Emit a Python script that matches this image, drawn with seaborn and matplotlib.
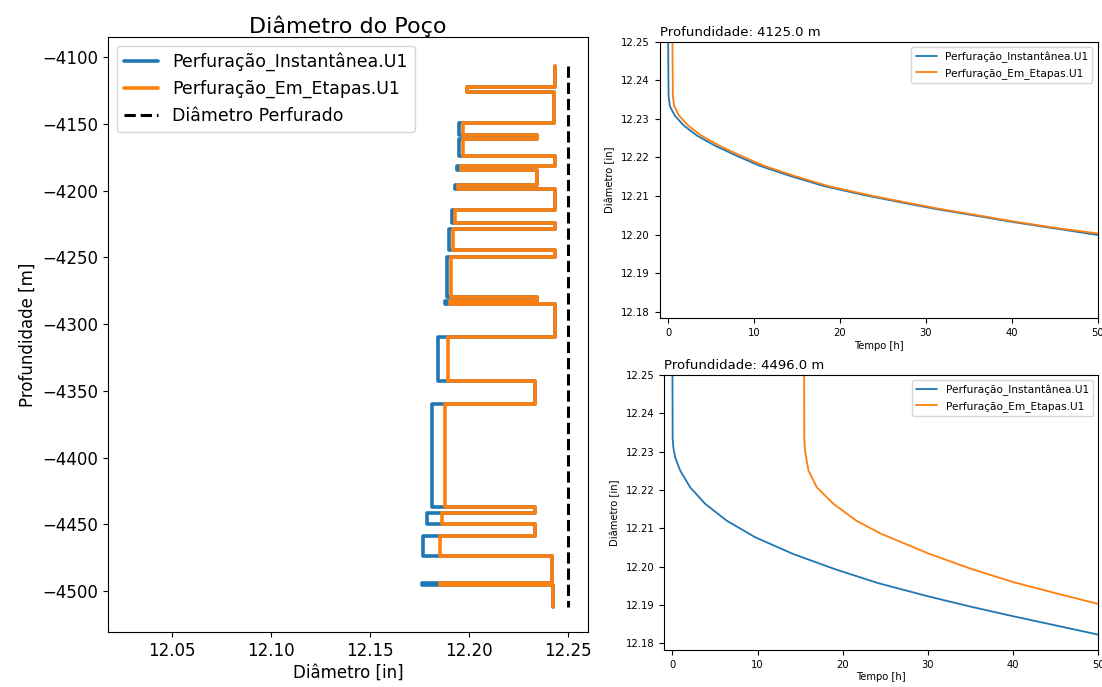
import numpy as np
import matplotlib
matplotlib.use("Agg")
import matplotlib.pyplot as plt
import seaborn as sns

# ---------------- data ----------------
# Layer boundaries of the well profile (depth, m; negative downwards)
layer_bounds = [-4107, -4122.5, -4126.5, -4149.5, -4158.5, -4161, -4174, -4181.5,
                -4184.5, -4196, -4198.5, -4214.5, -4224.5, -4228.5, -4244.5,
                -4249.5, -4280, -4282.5, -4285, -4310, -4343, -4360, -4437,
                -4441.5, -4449.5, -4458.5, -4473.5, -4494, -4495.5, -4512]
# Diameter [in] of each layer
diam_instantanea = [12.2435, 12.1990, 12.2430, 12.1950, 12.2345, 12.1950, 12.2435,
                    12.1940, 12.2345, 12.1930, 12.2435, 12.1917, 12.2435, 12.1900,
                    12.2435, 12.1890, 12.2345, 12.1880, 12.2435, 12.1845, 12.2335,
                    12.1815, 12.2335, 12.1788, 12.2335, 12.1771, 12.2420, 12.1765,
                    12.2425]
diam_etapas = [12.2435, 12.1990, 12.2430, 12.1970, 12.2345, 12.1970, 12.2435,
               12.1960, 12.2345, 12.1945, 12.2435, 12.1931, 12.2435, 12.1920,
               12.2435, 12.1913, 12.2345, 12.1905, 12.2435, 12.1897, 12.2335,
               12.1880, 12.2335, 12.1864, 12.2335, 12.1855, 12.2420, 12.1855,
               12.2425]
diam_perfurado = 12.25

# Time histories at two depths
t_4125_inst = [0, 0.05, 0.2, 0.78, 1.85, 3.4, 5.5, 8.0, 10.7, 14.2, 18.1, 22.7, 27, 31, 35,
               40, 45, 50]
d_4125_inst = [12.25, 12.2359, 12.2333, 12.2308, 12.2282, 12.2256, 12.223, 12.2204, 12.2178,
               12.2152, 12.2126, 12.2103, 12.2084, 12.2067, 12.2052, 12.2033, 12.2016, 12.1999]
t_4125_etap = [0.5, 0.55, 0.7, 1.28, 2.35, 3.9, 6.0, 8.5, 11.2, 14.7, 18.6, 23.2, 27.5, 31.5,
               35.5, 40.5, 45.5, 50]
d_4125_etap = [12.25, 12.2359, 12.2333, 12.2308, 12.2282, 12.2256, 12.223, 12.2204, 12.2178,
               12.2152, 12.2126, 12.2103, 12.2084, 12.2067, 12.2052, 12.2033, 12.2016, 12.2003]
t_4496_inst = [0, 0.02, 0.1, 0.32, 0.9, 2.08, 3.84, 6.38, 9.7, 14.2, 19.3, 24.2, 30, 35, 40,
               45, 50]
d_4496_inst = [12.25, 12.2335, 12.2311, 12.2285, 12.2251, 12.2207, 12.2164, 12.212, 12.2077,
               12.2033, 12.1992, 12.1957, 12.1923, 12.1896, 12.1871, 12.1847, 12.1823]
t_4496_etap = [15.46, 15.48, 15.56, 15.97, 16.95, 18.9, 21.6, 24.4, 30, 35, 40, 45, 50]
d_4496_etap = [12.25, 12.2335, 12.2303, 12.2251, 12.2207, 12.2164, 12.212, 12.2087, 12.2035,
               12.1995, 12.196, 12.1931, 12.1903]

lbl_inst = "Perfuração_Instantânea.U1"
lbl_etap = "Perfuração_Em_Etapas.U1"
C_BLUE = "#1f77b4"
C_ORANGE = "#ff7f0e"

# ---------------- style ----------------
sns.set_theme(style="ticks", rc={
    "axes.edgecolor": "black", "axes.linewidth": 0.8,
    "xtick.major.size": 3.5, "ytick.major.size": 3.5,
    "xtick.major.width": 0.8, "ytick.major.width": 0.8,
    "xtick.color": "black", "ytick.color": "black",
    "axes.labelcolor": "black", "text.color": "black",
    "legend.frameon": True,
})
plt.rcParams["font.family"] = ["DejaVu Sans"]

fig = plt.figure(figsize=(11.02, 6.87), dpi=100)
ax0 = fig.add_axes([0.098, 0.080, 0.4356, 0.866])
ax1 = fig.add_axes([0.5985, 0.5367, 0.3976, 0.4026])
ax2 = fig.add_axes([0.6025, 0.0539, 0.3941, 0.4003])


def step_path(bounds, diam):
    b = np.asarray(bounds, float)
    depth = np.column_stack([b[:-1], b[1:]]).ravel()
    x = np.repeat(np.asarray(diam, float), 2)
    return x, depth


# ---------------- left: profile ----------------
xi, yi = step_path(layer_bounds, diam_instantanea)
xe, ye = step_path(layer_bounds, diam_etapas)
line_kw = dict(sort=False, estimator=None, ax=ax0, lw=2.6,
               solid_joinstyle="round", solid_capstyle="round")
sns.lineplot(x=xi, y=yi, color=C_BLUE, label=lbl_inst, **line_kw)
sns.lineplot(x=xe, y=ye, color=C_ORANGE, label=lbl_etap, **line_kw)
sns.lineplot(x=[diam_perfurado, diam_perfurado], y=[layer_bounds[0], layer_bounds[-1]],
             sort=False, estimator=None, ax=ax0, color="black", lw=2.2,
             linestyle="--", label="Diâmetro Perfurado")
ax0.set_xlim(12.0177, 12.2603)
ax0.set_ylim(-4530.7, -4085)
ax0.set_xticks([12.05, 12.10, 12.15, 12.20, 12.25])
ax0.set_yticks(np.arange(-4500, -4099, 50))
ax0.tick_params(labelsize=12)
ax0.set_xlabel("Diâmetro [in]", fontsize=12, labelpad=3)
ax0.set_ylabel("Profundidade [m]", fontsize=12)
ax0.set_title("Diâmetro do Poço", fontsize=16, pad=3)
ax0.legend(loc="upper left", fontsize=12.5, handlelength=2.0)

# ---------------- right: time histories ----------------
for ax, depth_title, ti, di, te, de in [
        (ax1, "Profundidade: 4125.0 m", t_4125_inst, d_4125_inst, t_4125_etap, d_4125_etap),
        (ax2, "Profundidade: 4496.0 m", t_4496_inst, d_4496_inst, t_4496_etap, d_4496_etap)]:
    sns.lineplot(x=ti, y=di, sort=False, estimator=None, ax=ax, color=C_BLUE, lw=1.3,
                 label=lbl_inst)
    sns.lineplot(x=te, y=de, sort=False, estimator=None, ax=ax, color=C_ORANGE, lw=1.3,
                 label=lbl_etap)
    ax.set_xlim(-1.0, 50)
    ax.set_ylim(12.1783, 12.25)
    ax.set_xticks([0, 10, 20, 30, 40, 50])
    ax.set_yticks([12.18, 12.19, 12.20, 12.21, 12.22, 12.23, 12.24, 12.25])
    ax.yaxis.set_major_formatter(matplotlib.ticker.FormatStrFormatter("%.2f"))
    ax.tick_params(labelsize=7.2)
    ax.set_xlabel("Tempo [h]", fontsize=7.2, labelpad=2)
    ax.set_ylabel("Diâmetro [in]", fontsize=7.2)
    ax.set_title(depth_title, fontsize=9.5, loc="left", pad=4)
    ax.legend(loc="upper right", fontsize=7.6)

fig.savefig("out.png", dpi=100)
